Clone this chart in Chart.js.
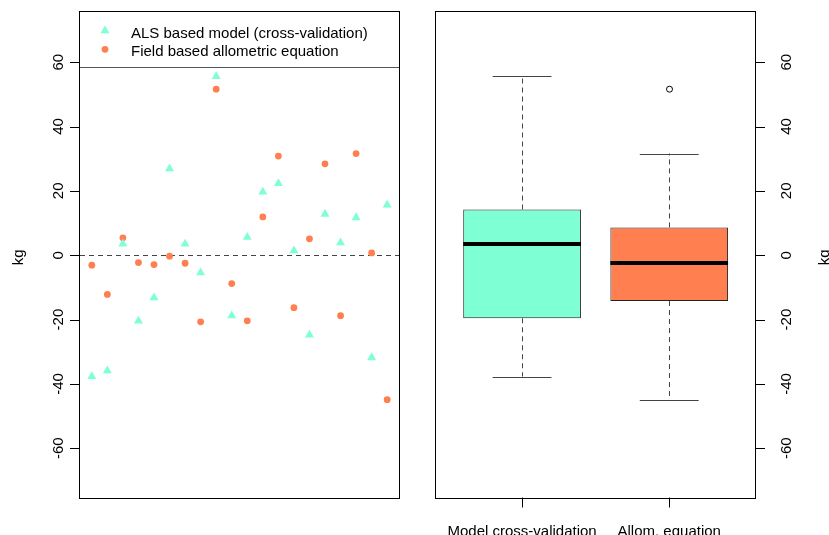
<!DOCTYPE html>
<html><head><meta charset="utf-8">
<script src="https://cdn.jsdelivr.net/npm/chart.js@4/dist/chart.umd.min.js"></script>
<style>
html,body{margin:0;padding:0;background:#fff;}
#wrap{position:relative;width:829px;height:535px;overflow:hidden;background:#fff;}
canvas{position:absolute;left:0;top:0;}
</style></head><body>
<div id="wrap"><canvas id="left" width="829" height="535"></canvas><canvas id="right" width="829" height="535"></canvas></div>
<script>
// ---- data ----
const plotIndex = [1,2,3,4,5,6,7,8,9,10,11,12,13,14,15,16,17,18,19,20];
const alsValues = [-37.7,-35.9,3.5,-20.4,-13.2,26.9,3.5,-5.4,55.6,-18.8,5.6,19.7,22.3,1.4,-24.8,12.8,3.9,11.7,-31.8,15.6];
const fieldValues = [-3.1,-12.2,5.4,-2.3,-2.9,-0.3,-2.5,-20.7,51.6,-8.8,-20.4,11.9,30.8,-16.3,5.1,28.4,-18.8,31.6,0.7,-44.9];
const legendLabels = ['ALS based model (cross-validation)','Field based allometric equation'];
const boxLabels = ['Model cross-validation','Allom. equation'];
const yTicks = [-60,-40,-20,0,20,40,60];
const yTickLabels = ['-60','-40','-20','0','20','40','60'];
const yLabel = 'kg';

const AQUA = '#7FFFD4', CORAL = '#FF7F50';
const FONT = '15px "Liberation Sans", Arial, Helvetica, sans-serif';
const Y_MIN = -75.3, Y_MAX = 75.9;

// R-style boxplot statistics (fivenum hinges, 1.5*IQR whiskers)
function fivenum(arr){
  const s=[...arr].sort((a,b)=>a-b), n=s.length;
  const n4=Math.floor((n+3)/2)/2;
  const d=[1,n4,(n+1)/2,n+1-n4,n];
  return d.map(v=>0.5*(s[Math.floor(v)-1]+s[Math.ceil(v)-1]));
}
function boxStats(arr){
  const f=fivenum(arr), iqr=f[3]-f[1];
  const lo=f[1]-1.5*iqr, hi=f[3]+1.5*iqr;
  const inside=arr.filter(v=>v>=lo&&v<=hi);
  return {q1:f[1],med:f[2],q3:f[3],lo:Math.min(...inside),hi:Math.max(...inside),out:arr.filter(v=>v<lo||v>hi)};
}
const stats=[boxStats(alsValues),boxStats(fieldValues)];

const px = v => Math.round(v)+0.5;

function drawTri(ctx,x,y,r){
  ctx.beginPath();
  ctx.moveTo(x,y-r);
  ctx.lineTo(x+r*Math.sin(2*Math.PI/3),y-r*Math.cos(2*Math.PI/3));
  ctx.lineTo(x-r*Math.sin(2*Math.PI/3),y-r*Math.cos(2*Math.PI/3));
  ctx.closePath(); ctx.fill();
}
function rotText(ctx,txt,x,y){
  ctx.save(); ctx.translate(x,y); ctx.rotate(-Math.PI/2);
  ctx.textAlign='center'; ctx.textBaseline='alphabetic'; ctx.fillText(txt,0,0); ctx.restore();
}
function drawFrame(ctx,a){
  ctx.save(); ctx.strokeStyle='#000'; ctx.lineWidth=1;
  ctx.strokeRect(px(a.left)-1,px(a.top),Math.round(a.right-a.left)+1,Math.round(a.bottom-a.top));
  ctx.restore();
}

const leftDecor = {
  id:'leftDecor',
  beforeDatasetsDraw(chart){
    const {ctx,chartArea:a,scales:{y}}=chart;
    ctx.save(); ctx.strokeStyle='#444'; ctx.lineWidth=1; ctx.setLineDash([5,4]);
    const y0=px(y.getPixelForValue(0));
    ctx.beginPath(); ctx.moveTo(a.left,y0); ctx.lineTo(a.right,y0); ctx.stroke();
    ctx.restore();
  },
  afterDraw(chart){
    const {ctx,chartArea:a,scales:{y}}=chart;
    drawFrame(ctx,a);
    ctx.save();
    // legend box bottom
    ctx.strokeStyle='#555'; ctx.lineWidth=1;
    ctx.beginPath(); ctx.moveTo(a.left,67.5); ctx.lineTo(a.right,67.5); ctx.stroke();
    ctx.fillStyle=AQUA; drawTri(ctx,105,30.6,5.2);
    ctx.fillStyle=CORAL; ctx.beginPath(); ctx.arc(105,49.3,3.4,0,Math.PI*2); ctx.fill();
    ctx.fillStyle='#000'; ctx.font=FONT; ctx.textAlign='left'; ctx.textBaseline='alphabetic';
    ctx.fillText(legendLabels[0],131,38.3);
    ctx.fillText(legendLabels[1],131,56);
    // y axis
    ctx.strokeStyle='#000';
    yTicks.forEach((v,i)=>{
      const yy=px(y.getPixelForValue(v));
      ctx.beginPath(); ctx.moveTo(a.left-10,yy); ctx.lineTo(a.left,yy); ctx.stroke();
      rotText(ctx,yTickLabels[i],62.5,y.getPixelForValue(v));
    });
    rotText(ctx,yLabel,23,(a.top+a.bottom)/2+3);
    ctx.restore();
  }
};

new Chart(document.getElementById('left'),{
  type:'scatter',
  data:{datasets:[
    {label:legendLabels[0],data:plotIndex.map((x,i)=>({x,y:alsValues[i]})),pointStyle:'triangle',pointRadius:5.2,pointHoverRadius:5.2,backgroundColor:AQUA,borderColor:AQUA,borderWidth:0},
    {label:legendLabels[1],data:plotIndex.map((x,i)=>({x,y:fieldValues[i]})),pointStyle:'circle',pointRadius:3.4,pointHoverRadius:3.4,backgroundColor:CORAL,borderColor:CORAL,borderWidth:0}
  ]},
  options:{
    responsive:false,animation:false,devicePixelRatio:1,
    layout:{padding:{left:80,right:430,top:11,bottom:37.5}},
    scales:{
      x:{type:'linear',min:0.24,max:20.76,display:false},
      y:{type:'linear',min:Y_MIN,max:Y_MAX,display:false}
    },
    plugins:{legend:{display:false},tooltip:{enabled:false}},
    events:[]
  },
  plugins:[leftDecor]
});

const rightDecor = {
  id:'rightDecor',
  afterDatasetsDraw(chart){
    const {ctx,chartArea:a,scales:{x,y}}=chart;
    ctx.save();
    stats.forEach((s,i)=>{
      const c=i+1, xc=px(x.getPixelForValue(c));
      const capL=x.getPixelForValue(c-0.2), capR=x.getPixelForValue(c+0.2);
      const bL=x.getPixelForValue(c-0.4), bR=x.getPixelForValue(c+0.4);
      ctx.strokeStyle='#444'; ctx.lineWidth=1; ctx.setLineDash([5,4]);
      ctx.beginPath();
      ctx.moveTo(xc,y.getPixelForValue(s.q3)); ctx.lineTo(xc,y.getPixelForValue(s.hi));
      ctx.moveTo(xc,y.getPixelForValue(s.q1)); ctx.lineTo(xc,y.getPixelForValue(s.lo));
      ctx.stroke();
      ctx.setLineDash([]);
      ctx.beginPath();
      ctx.moveTo(capL,px(y.getPixelForValue(s.hi))); ctx.lineTo(capR,px(y.getPixelForValue(s.hi)));
      ctx.moveTo(capL,px(y.getPixelForValue(s.lo))); ctx.lineTo(capR,px(y.getPixelForValue(s.lo)));
      ctx.stroke();
      ctx.strokeStyle='#000'; ctx.lineWidth=4;
      ctx.beginPath(); ctx.moveTo(bL,y.getPixelForValue(s.med)); ctx.lineTo(bR,y.getPixelForValue(s.med)); ctx.stroke();
      ctx.lineWidth=1;
      s.out.forEach(o=>{ctx.beginPath(); ctx.arc(xc,y.getPixelForValue(o),3,0,Math.PI*2); ctx.stroke();});
    });
    ctx.restore();
  },
  afterDraw(chart){
    const {ctx,chartArea:a,scales:{x,y}}=chart;
    drawFrame(ctx,a);
    ctx.save(); ctx.strokeStyle='#000'; ctx.lineWidth=1; ctx.fillStyle='#000'; ctx.font=FONT;
    yTicks.forEach((v,i)=>{
      const yy=px(y.getPixelForValue(v));
      ctx.beginPath(); ctx.moveTo(a.right,yy); ctx.lineTo(a.right+10,yy); ctx.stroke();
      rotText(ctx,yTickLabels[i],791,y.getPixelForValue(v));
    });
    boxLabels.forEach((l,i)=>{
      const xx=px(x.getPixelForValue(i+1));
      ctx.beginPath(); ctx.moveTo(xx,a.bottom); ctx.lineTo(xx,a.bottom+10); ctx.stroke();
      ctx.textAlign='center'; ctx.textBaseline='alphabetic';
      ctx.fillText(l,x.getPixelForValue(i+1),535.5);
    });
    rotText(ctx,yLabel,829,(a.top+a.bottom)/2+3);
    ctx.restore();
  }
};

new Chart(document.getElementById('right'),{
  type:'bar',
  data:{datasets:[{
    label:'box',
    data:stats.map((s,i)=>({x:i+1,y:[s.q1,s.q3]})),
    backgroundColor:[AQUA,CORAL],borderColor:'#222',borderWidth:1,borderSkipped:false,
    categoryPercentage:0.8,barPercentage:1.0
  }]},
  options:{
    responsive:false,animation:false,devicePixelRatio:1,
    layout:{padding:{left:436,right:74,top:11,bottom:37.5}},
    scales:{
      x:{type:'linear',min:0.415,max:2.583,display:false,offset:false,grid:{offset:false},
         afterBuildTicks:s=>{s.ticks=boxLabels.map((l,i)=>({value:i+1}));}},
      y:{type:'linear',min:Y_MIN,max:Y_MAX,display:false}
    },
    plugins:{legend:{display:false},tooltip:{enabled:false}},
    events:[]
  },
  plugins:[rightDecor]
});
</script>
</body></html>
